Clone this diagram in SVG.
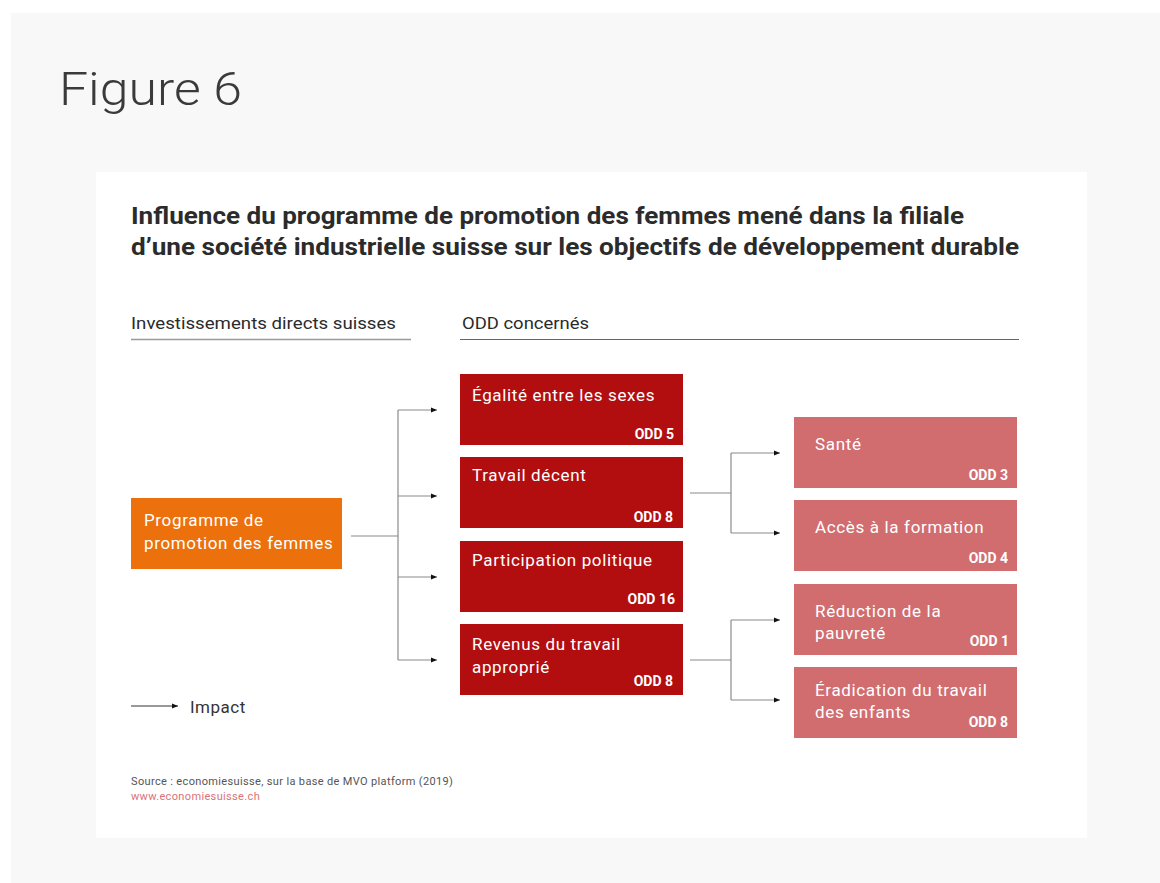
<svg xmlns="http://www.w3.org/2000/svg" width="1160" height="883" viewBox="0 0 1160 883">
<defs>
<style>
.t{font-family:Roboto,"Liberation Sans",sans-serif}
.fig{font-family:Roboto,"Liberation Sans",sans-serif;font-weight:300;font-size:47px;fill:#3a3a3a}
.title{font-family:Roboto,"Liberation Sans",sans-serif;font-weight:700;font-size:24px;fill:#2b2b2b}
.hdr{font-family:Roboto,"Liberation Sans",sans-serif;font-size:16.5px;fill:#2b2b2b}
.bx{font-family:Roboto,"Liberation Sans",sans-serif;font-size:17px;letter-spacing:0.65px;fill:#fff}
.odd{font-family:Roboto,"Liberation Sans",sans-serif;font-size:14px;font-weight:700;fill:#fff;text-anchor:end}
.red{fill:#b20e10}
.pink{fill:#d16d6f}
.conn{fill:none;stroke:#8a8a8a;stroke-width:1.2}
.src{font-family:Roboto,"Liberation Sans",sans-serif;font-size:11px;letter-spacing:0.35px;fill:#555}
</style>
<marker id="ah" viewBox="0 0 6 6" refX="6" refY="3" markerWidth="6" markerHeight="6" markerUnits="userSpaceOnUse" orient="auto">
<path d="M0,0.5 L6,3 L0,5.5 Z" fill="#111"/>
</marker>
</defs>
<rect x="0" y="0" width="1160" height="883" fill="#ffffff"/>
<rect x="11" y="13" width="1149" height="870" fill="#f8f8f8"/>
<rect x="96" y="172" width="991" height="666" fill="#ffffff"/>
<text class="fig" x="59" y="105" textLength="183" lengthAdjust="spacingAndGlyphs">Figure 6</text>
<text class="title" x="131" y="224" textLength="833" lengthAdjust="spacingAndGlyphs">Influence du programme de promotion des femmes mené dans la filiale</text>
<text class="title" x="131" y="255" textLength="888" lengthAdjust="spacingAndGlyphs">d’une société industrielle suisse sur les objectifs de développement durable</text>
<text class="hdr" x="131" y="329" textLength="265" lengthAdjust="spacingAndGlyphs">Investissements directs suisses</text>
<line x1="131" y1="339.5" x2="411" y2="339.5" stroke="#9a9a9a" stroke-width="1.5"/>
<text class="hdr" x="462" y="329" textLength="127" lengthAdjust="spacingAndGlyphs">ODD concernés</text>
<line x1="460" y1="339.5" x2="1019" y2="339.5" stroke="#666" stroke-width="1"/>

<g id="connectors">
<path class="conn" d="M351,536 H398"/>
<path class="conn" d="M398,410 V660"/>
<path class="conn" d="M398,410 H437" marker-end="url(#ah)"/>
<path class="conn" d="M398,496 H437" marker-end="url(#ah)"/>
<path class="conn" d="M398,577 H437" marker-end="url(#ah)"/>
<path class="conn" d="M398,660 H437" marker-end="url(#ah)"/>
<path class="conn" d="M690,493 H731"/>
<path class="conn" d="M731,453 V533"/>
<path class="conn" d="M731,453 H780" marker-end="url(#ah)"/>
<path class="conn" d="M731,533 H780" marker-end="url(#ah)"/>
<path class="conn" d="M690,660 H731"/>
<path class="conn" d="M731,620 V700"/>
<path class="conn" d="M731,620 H780" marker-end="url(#ah)"/>
<path class="conn" d="M731,700 H780" marker-end="url(#ah)"/>
</g>

<g id="node-programme">
<rect x="131" y="498" width="211" height="71" fill="#ec700c"/>
<text class="bx" x="144" y="526">Programme de</text>
<text class="bx" x="144" y="549">promotion des femmes</text>
</g>

<g id="node-egalite">
<rect class="red" x="460" y="374" width="223" height="71"/>
<text class="bx" x="472" y="401">Égalité entre les sexes</text>
<text class="odd" x="674" y="439">ODD 5</text>
</g>
<g id="node-travail">
<rect class="red" x="460" y="457" width="223" height="71"/>
<text class="bx" x="472" y="481">Travail décent</text>
<text class="odd" x="673" y="522">ODD 8</text>
</g>
<g id="node-participation">
<rect class="red" x="460" y="541" width="223" height="71"/>
<text class="bx" x="472" y="566">Participation politique</text>
<text class="odd" x="675" y="604">ODD 16</text>
</g>
<g id="node-revenus">
<rect class="red" x="460" y="624" width="223" height="71"/>
<text class="bx" x="472" y="650">Revenus du travail</text>
<text class="bx" x="472" y="673">approprié</text>
<text class="odd" x="673" y="686">ODD 8</text>
</g>

<g id="node-sante">
<rect class="pink" x="794" y="417" width="223" height="71"/>
<text class="bx" x="815" y="450">Santé</text>
<text class="odd" x="1008" y="480">ODD 3</text>
</g>
<g id="node-formation">
<rect class="pink" x="794" y="500" width="223" height="71"/>
<text class="bx" x="815" y="533">Accès à la formation</text>
<text class="odd" x="1008" y="563">ODD 4</text>
</g>
<g id="node-pauvrete">
<rect class="pink" x="794" y="584" width="223" height="71"/>
<text class="bx" x="815" y="617">Réduction de la</text>
<text class="bx" x="815" y="639">pauvreté</text>
<text class="odd" x="1009" y="646">ODD 1</text>
</g>
<g id="node-enfants">
<rect class="pink" x="794" y="667" width="223" height="71"/>
<text class="bx" x="815" y="696">Éradication du travail</text>
<text class="bx" x="815" y="718">des enfants</text>
<text class="odd" x="1008" y="727">ODD 8</text>
</g>

<g id="legend">
<path d="M131,706 H178" stroke="#333" stroke-width="1" fill="none" marker-end="url(#ah)"/>
<text class="t" x="190" y="713" font-size="17" letter-spacing="0.5" fill="#333">Impact</text>
</g>
<text class="src" x="131" y="785">Source : economiesuisse, sur la base de MVO platform (2019)</text>
<text class="src" x="131" y="800" style="fill:#d9737a">www.economiesuisse.ch</text>
</svg>
